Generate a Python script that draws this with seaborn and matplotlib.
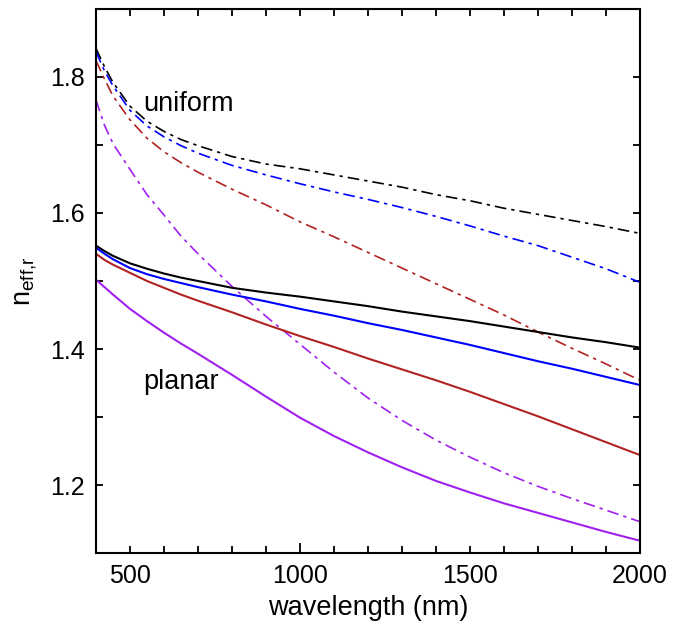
import matplotlib
matplotlib.use("Agg")
import matplotlib.pyplot as plt
import seaborn as sns
import pandas as pd
from matplotlib.ticker import MultipleLocator

# ---- data ----
wavelength = [400, 425, 450, 500, 550, 600, 650, 700, 800, 900, 1000,
              1100, 1200, 1300, 1400, 1500, 1600, 1700, 1800, 1900, 2000]

# planar (solid)
planar_black  = [1.552, 1.544, 1.537, 1.526, 1.518, 1.511, 1.505, 1.500, 1.490, 1.483, 1.477,
                 1.470, 1.463, 1.455, 1.448, 1.441, 1.433, 1.425, 1.417, 1.410, 1.402]
planar_blue   = [1.549, 1.540, 1.532, 1.519, 1.510, 1.503, 1.497, 1.491, 1.480, 1.470, 1.459,
                 1.449, 1.438, 1.428, 1.417, 1.406, 1.394, 1.382, 1.371, 1.359, 1.347]
planar_brown  = [1.540, 1.531, 1.524, 1.512, 1.500, 1.490, 1.480, 1.471, 1.454, 1.436, 1.419,
                 1.403, 1.386, 1.370, 1.354, 1.337, 1.319, 1.301, 1.282, 1.263, 1.244]
planar_purple = [1.502, 1.491, 1.480, 1.459, 1.441, 1.424, 1.408, 1.393, 1.362, 1.330, 1.299,
                 1.272, 1.248, 1.226, 1.206, 1.189, 1.173, 1.159, 1.145, 1.131, 1.118]

# uniform (dash-dot)
uniform_black  = [1.842, 1.815, 1.792, 1.757, 1.735, 1.720, 1.708, 1.699, 1.683, 1.672, 1.665,
                  1.656, 1.647, 1.638, 1.627, 1.618, 1.607, 1.598, 1.589, 1.580, 1.570]
uniform_blue   = [1.837, 1.809, 1.787, 1.751, 1.728, 1.712, 1.699, 1.688, 1.670, 1.656, 1.643,
                  1.631, 1.620, 1.608, 1.595, 1.581, 1.566, 1.552, 1.535, 1.518, 1.498]
uniform_brown  = [1.824, 1.797, 1.772, 1.737, 1.710, 1.690, 1.674, 1.660, 1.635, 1.612, 1.587,
                  1.565, 1.542, 1.519, 1.496, 1.473, 1.450, 1.425, 1.401, 1.378, 1.354]
uniform_purple = [1.766, 1.729, 1.702, 1.664, 1.627, 1.597, 1.566, 1.540, 1.492, 1.448, 1.407,
                  1.366, 1.328, 1.295, 1.266, 1.241, 1.218, 1.198, 1.180, 1.163, 1.146]

series_colors = ["black", "#0000ff", "#b22222", "#a020f0"]
planar = [planar_black, planar_blue, planar_brown, planar_purple]
uniform = [uniform_black, uniform_blue, uniform_brown, uniform_purple]

x_ticks = [500, 1000, 1500, 2000]
y_ticks = [1.2, 1.4, 1.6, 1.8]

# ---- style ----
sns.set_style("ticks")
plt.rcParams["font.family"] = ["Liberation Sans", "DejaVu Sans"]
plt.rcParams["mathtext.fontset"] = "custom"
plt.rcParams["mathtext.rm"] = "Liberation Sans"
plt.rcParams["mathtext.it"] = "Liberation Sans:italic"
for k in ["text.color", "axes.labelcolor", "xtick.color", "ytick.color", "axes.edgecolor"]:
    plt.rcParams[k] = "black"

fig = plt.figure(figsize=(6.85, 6.3), dpi=100)
ax = fig.add_axes([96 / 685, 1 - 553 / 630, (640 - 96) / 685, (553 - 9) / 630])

for col, yv in zip(series_colors, uniform):
    df = pd.DataFrame({"wl": wavelength, "n": yv})
    sns.lineplot(data=df, x="wl", y="n", ax=ax, color=col, lw=1.2,
                 linestyle=(0, (7, 3, 2, 3)), sort=False)
for col, yv in zip(series_colors, planar):
    df = pd.DataFrame({"wl": wavelength, "n": yv})
    sns.lineplot(data=df, x="wl", y="n", ax=ax, color=col, lw=1.5, sort=False)

ax.set_xlim(400, 2000)
ax.set_ylim(1.1, 1.9)
ax.set_xticks(x_ticks)
ax.set_xticklabels([str(t) for t in x_ticks])
ax.set_yticks(y_ticks)
ax.set_yticklabels([f"{t:.1f}" for t in y_ticks])
ax.xaxis.set_minor_locator(MultipleLocator(100))
ax.yaxis.set_minor_locator(MultipleLocator(0.1))

ax.tick_params(which="both", direction="in", top=True, right=True, width=1.3,
               labelsize=18, pad=8, colors="black")
ax.tick_params(which="major", length=5)
ax.tick_params(which="minor", length=5)
for t, v in zip(ax.xaxis.get_major_ticks(), x_ticks):
    if v % 1000 == 0:
        t.tick1line.set_markersize(7.5)

for s in ax.spines.values():
    s.set_linewidth(1.5)
    s.set_color("black")

ax.set_xlabel("wavelength (nm)", fontsize=19.5, labelpad=5)
ax.set_ylabel(r"n$_{\mathrm{eff{,}r}}$", fontsize=19.5, labelpad=8)

ax.text(539, 1.761, "uniform", fontsize=19.5, va="center", ha="left")
ax.text(539, 1.351, "planar", fontsize=19.5, va="center", ha="left")

fig.savefig("out.png", dpi=100)
